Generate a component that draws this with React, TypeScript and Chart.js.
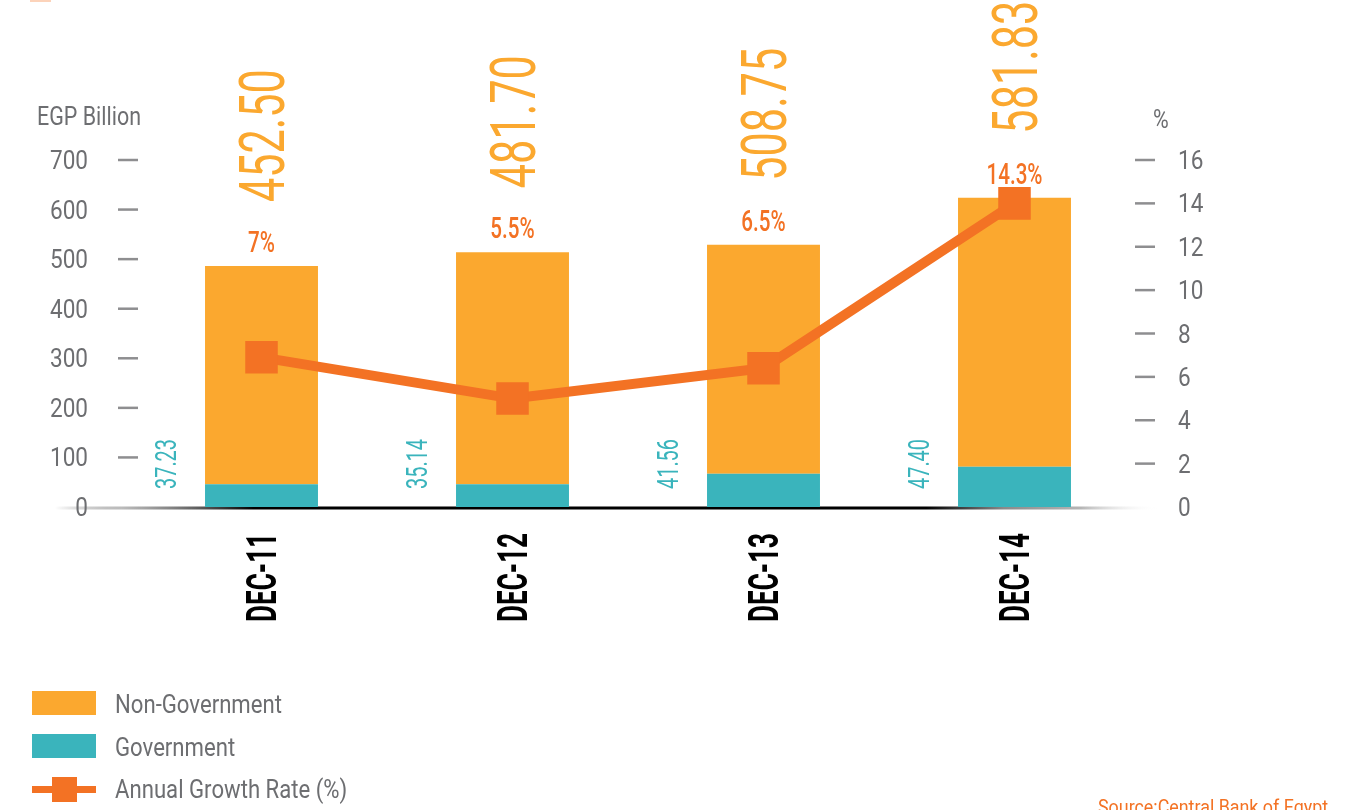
import React, { useEffect, useRef } from "react";
import { Chart, registerables } from "chart.js";

Chart.register(...registerables);

const categories = ["DEC-11", "DEC-12", "DEC-13", "DEC-14"];
const nonGovernment = [440, 468, 462, 543];
const government = [46, 46, 67, 81];
const growthRate = [6.9, 5.0, 6.4, 14.0];
const nonGovernmentLabels = ["452.50", "481.70", "508.75", "581.83"];
const governmentLabels = ["37.23", "35.14", "41.56", "47.40"];
const growthLabels = ["7%", "5.5%", "6.5%", "14.3%"];
const leftTicks = [0, 100, 200, 300, 400, 500, 600, 700];
const rightTicks = [0, 2, 4, 6, 8, 10, 12, 14, 16];
const legendLabels = ["Non-Government", "Government", "Annual Growth Rate (%)"];
const leftTitle = "EGP Billion";
const rightTitle = "%";
const sourceText = "Source:Central Bank of Egypt";

const ORANGE = "#FBA82F";
const TEAL = "#3AB4BC";
const LINE = "#F37224";
const GRAY = "#6D6E71";
const TICK = "#8E8E90";
const FONT = "Roboto, 'Liberation Sans', sans-serif";

function squeeze(ctx: CanvasRenderingContext2D, font: string, sample: string, target: number) {
  ctx.save();
  ctx.font = font;
  const w = ctx.measureText(sample).width;
  ctx.restore();
  return target / w;
}

function drawText(
  ctx: CanvasRenderingContext2D,
  text: string,
  x: number,
  y: number,
  font: string,
  color: string,
  sx: number,
  align: CanvasTextAlign,
  rotate: boolean
) {
  ctx.save();
  ctx.translate(x, y);
  if (rotate) ctx.rotate(-Math.PI / 2);
  ctx.scale(sx, 1);
  ctx.font = font;
  ctx.fillStyle = color;
  ctx.textAlign = align;
  ctx.textBaseline = "alphabetic";
  ctx.fillText(text, 0, 0);
  ctx.restore();
}

const decorPlugin = {
  id: "decor",
  beforeDatasetsDraw(chart: any) {
    const ctx: CanvasRenderingContext2D = chart.ctx;
    const yScale = chart.scales.y;
    const y0 = yScale.getPixelForValue(0);
    ctx.save();
    const g = ctx.createLinearGradient(55, 0, 1158, 0);
    g.addColorStop(0, "rgba(0,0,0,0)");
    g.addColorStop(0.06, "rgba(120,120,120,0.5)");
    g.addColorStop(0.18, "#000000");
    g.addColorStop(0.79, "#000000");
    g.addColorStop(0.86, "#8a8a8a");
    g.addColorStop(0.93, "#b5b5b5");
    g.addColorStop(1, "rgba(255,255,255,0)");
    ctx.strokeStyle = g;
    ctx.lineWidth = 3;
    ctx.beginPath();
    ctx.moveTo(55, y0 + 1);
    ctx.lineTo(1158, y0 + 1);
    ctx.stroke();
    ctx.restore();
  },
  afterDraw(chart: any) {
    const ctx: CanvasRenderingContext2D = chart.ctx;
    const yScale = chart.scales.y;
    const y1Scale = chart.scales.y1;
    const area = chart.chartArea;

    // tiny header mark
    ctx.save();
    ctx.fillStyle = "#FCD3BA";
    ctx.fillRect(30, 0, 21, 2);
    ctx.restore();

    // axis ticks
    const tickFont = `26px ${FONT}`;
    const tickSx = squeeze(ctx, tickFont, "700", 38);
    ctx.save();
    ctx.strokeStyle = TICK;
    ctx.lineWidth = 2.5;
    leftTicks.forEach((v) => {
      const py = yScale.getPixelForValue(v);
      if (v !== 0) {
        ctx.beginPath();
        ctx.moveTo(area.left - 18, py);
        ctx.lineTo(area.left + 2, py);
        ctx.stroke();
      }
      drawText(ctx, String(v), 88, py + 9, tickFont, GRAY, tickSx, "right", false);
    });
    rightTicks.forEach((v) => {
      const py = y1Scale.getPixelForValue(v);
      if (v !== 0) {
        ctx.beginPath();
        ctx.moveTo(area.right - 5, py);
        ctx.lineTo(area.right + 15, py);
        ctx.stroke();
      }
      drawText(ctx, String(v), 1178, py + 9, tickFont, GRAY, tickSx, "left", false);
    });
    ctx.restore();

    // axis titles
    const titleFont = `25px ${FONT}`;
    const titleSx = squeeze(ctx, titleFont, leftTitle, 104);
    drawText(ctx, leftTitle, 37, 125, titleFont, GRAY, titleSx, "left", false);
    drawText(ctx, rightTitle, 1153, 128, titleFont, GRAY, titleSx, "left", false);

    // bar labels
    const topMeta = chart.getDatasetMeta(1);
    const bigFont = `63px ${FONT}`;
    const bigSx = squeeze(ctx, bigFont, nonGovernmentLabels[0], 133);
    const pctFont = `500 30px ${FONT}`;
    const pctSx = squeeze(ctx, pctFont, growthLabels[3], 56);
    const govFont = `30px ${FONT}`;
    const govSx = squeeze(ctx, govFont, governmentLabels[0], 50);
    const catFont = `bold 43px ${FONT}`;
    const catSx = squeeze(ctx, catFont, categories[0], 89);

    topMeta.data.forEach((bar: any, i: number) => {
      const bx = bar.x;
      const top = bar.y;
      drawText(ctx, nonGovernmentLabels[i], bx + 22, top - 64, bigFont, ORANGE, bigSx, "left", true);
      drawText(ctx, growthLabels[i], bx, top - 14, pctFont, LINE, pctSx, "center", false);
      drawText(ctx, governmentLabels[i], bx - 86, 489, govFont, TEAL, govSx, "left", true);
      drawText(ctx, categories[i], bx + 14, 533, catFont, "#000000", catSx, "right", true);
    });

    // legend
    ctx.save();
    ctx.fillStyle = ORANGE;
    ctx.fillRect(32, 691, 64, 24);
    ctx.fillStyle = TEAL;
    ctx.fillRect(32, 734, 64, 24);
    ctx.fillStyle = LINE;
    ctx.fillRect(32, 786, 64, 7);
    ctx.fillRect(52, 777, 25, 25);
    ctx.restore();
    const legFont = `26px ${FONT}`;
    const legSx = squeeze(ctx, legFont, legendLabels[0], 167);
    drawText(ctx, legendLabels[0], 115, 713, legFont, GRAY, legSx, "left", false);
    drawText(ctx, legendLabels[1], 115, 756, legFont, GRAY, legSx, "left", false);
    drawText(ctx, legendLabels[2], 115, 798, legFont, GRAY, legSx, "left", false);

    // source
    const srcFont = `20px ${FONT}`;
    const srcSx = squeeze(ctx, srcFont, sourceText, 230);
    drawText(ctx, sourceText, 1098, 814, srcFont, LINE, srcSx, "left", false);
  },
};

export default function App() {
  const canvasRef = useRef<HTMLCanvasElement | null>(null);

  useEffect(() => {
    document.body.style.overflow = "hidden";
    const canvas = canvasRef.current;
    if (!canvas) return;
    const chart = new Chart(canvas, {
      type: "bar",
      data: {
        labels: categories,
        datasets: [
          {
            type: "bar",
            label: "Government",
            data: government,
            backgroundColor: TEAL,
            stack: "s",
            yAxisID: "y",
            order: 2,
            barPercentage: 0.45,
            categoryPercentage: 1,
          },
          {
            type: "bar",
            label: "Non-Government",
            data: nonGovernment,
            backgroundColor: ORANGE,
            stack: "s",
            yAxisID: "y",
            order: 2,
            barPercentage: 0.45,
            categoryPercentage: 1,
          },
          {
            type: "line",
            label: "Annual Growth Rate (%)",
            data: growthRate,
            yAxisID: "y1",
            borderColor: LINE,
            borderWidth: 10,
            pointStyle: "rect",
            pointRadius: 23,
            pointBackgroundColor: LINE,
            pointBorderWidth: 0,
            tension: 0,
            order: 0,
            clip: false,
          } as any,
        ],
      },
      options: {
        responsive: false,
        maintainAspectRatio: false,
        devicePixelRatio: 1,
        animation: false,
        layout: { padding: { left: 136, right: 224, top: 160, bottom: 303 } },
        plugins: {
          legend: { display: false },
          tooltip: { enabled: false },
        },
        scales: {
          x: { display: false, stacked: true },
          y: { display: false, stacked: true, min: 0, max: 700 },
          y1: { display: false, position: "right", min: 0, max: 16 },
        },
      },
      plugins: [decorPlugin],
    });
    return () => chart.destroy();
  }, []);

  return (
    <div style={{ position: "absolute", left: 0, top: 0, width: 1364, height: 810, background: "#ffffff" }}>
      <canvas ref={canvasRef} width={1364} height={810} style={{ display: "block" }} />
    </div>
  );
}
